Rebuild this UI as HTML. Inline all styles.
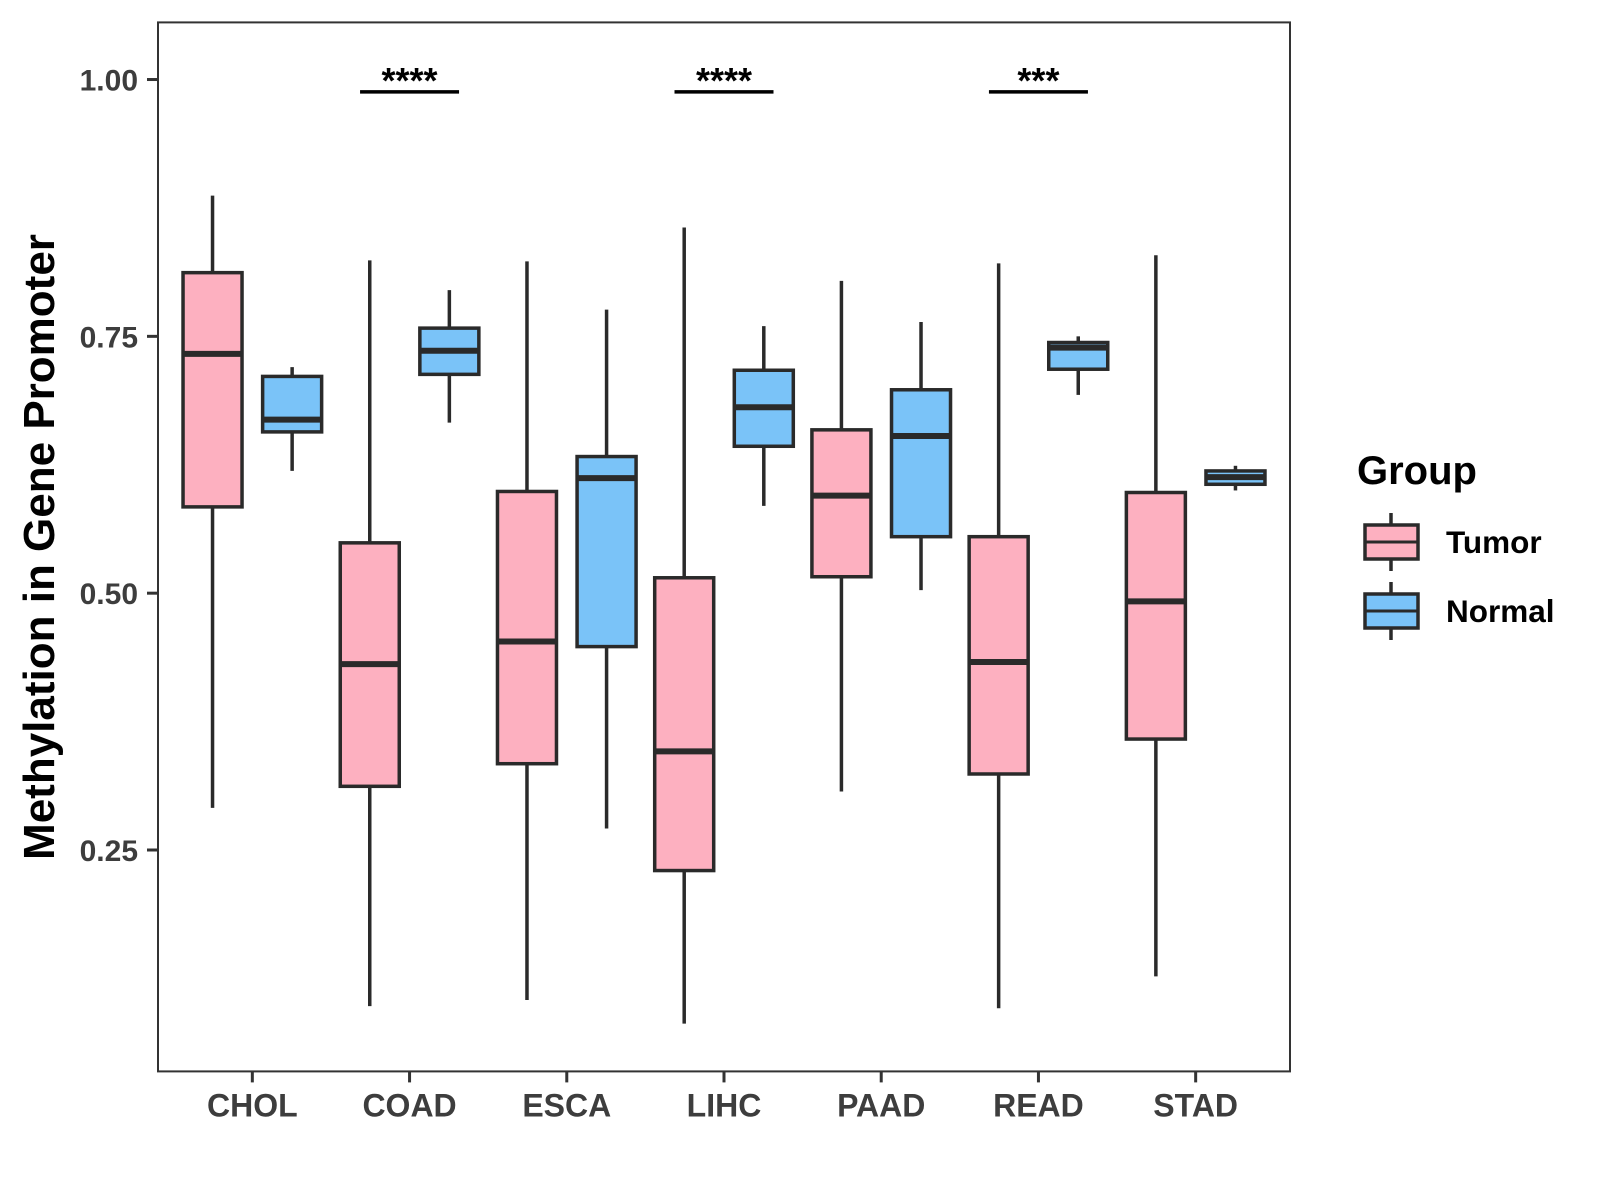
<!DOCTYPE html>
<html><head><meta charset="utf-8"><style>
body{margin:0;background:#fff}
svg{display:block;font-family:"Liberation Sans",Arial,sans-serif}
</style></head><body>
<svg id="chart" width="1600" height="1200">
</svg>
<script>
const categories=["CHOL","COAD","ESCA","LIHC","PAAD","READ","STAD"];
const groups=["Tumor","Normal"];
const tumorStats=[[0.291,0.584,0.733,0.812,0.887],[0.098,0.312,0.431,0.549,0.824],[0.104,0.334,0.453,0.599,0.823],[0.081,0.230,0.346,0.515,0.856],[0.307,0.516,0.595,0.659,0.804],[0.096,0.324,0.433,0.555,0.821],[0.127,0.358,0.492,0.598,0.829]];
const normalStats=[[0.619,0.657,0.669,0.711,0.720],[0.666,0.713,0.736,0.758,0.795],[0.271,0.448,0.612,0.633,0.776],[0.585,0.643,0.681,0.717,0.760],[0.503,0.555,0.653,0.698,0.764],[0.693,0.718,0.739,0.744,0.750],[0.600,0.606,0.613,0.619,0.624]];
const yTicks=[0.25,0.50,0.75,1.00];
const yTickLabels=["0.25","0.50","0.75","1.00"];
const sigCats=["COAD","LIHC","READ"];
const sigLabels=["****","****","***"];
const sigY=0.988;

const NS="http://www.w3.org/2000/svg";
const svg=document.getElementById('chart');
const L=158,R=1290,T=22.4,B=1071.4;
const yMin=0.0345,yMax=1.0556;
const y=v=>B-(v-yMin)/(yMax-yMin)*(B-T);
const step=(R-L)/(categories.length+0.2);
const x=i=>L+step*(i+0.6);
const off=39.8,bw=59;
const fills=["#FDB0C0","#7AC3F8"],stroke="#2a2a2a";
function mk(tag,attrs){const e=document.createElementNS(NS,tag);for(const k in attrs)e.setAttribute(k,attrs[k]);svg.appendChild(e);return e;}
function box(cx,s,fill,name){
  const g=document.createElementNS(NS,'g');svg.appendChild(g);
  
  
  const add=(tag,a)=>{const e=document.createElementNS(NS,tag);for(const k in a)e.setAttribute(k,a[k]);g.appendChild(e);return e;};
  add('line',{x1:cx,x2:cx,y1:y(s[4]),y2:y(s[0]),stroke:stroke,'stroke-width':3.5});
  add('rect',{x:cx-bw/2,y:y(s[3]),width:bw,height:y(s[1])-y(s[3]),fill:fill,stroke:stroke,'stroke-width':3.5});
  add('line',{x1:cx-bw/2,x2:cx+bw/2,y1:y(s[2]),y2:y(s[2]),stroke:stroke,'stroke-width':6});
}
const panel=mk('rect',{x:L,y:T,width:R-L,height:B-T,fill:'#fff',stroke:'#333','stroke-width':2});


categories.forEach((c,i)=>{
  box(x(i)-off,tumorStats[i],fills[0],'box-tumor-'+c.toLowerCase());
  box(x(i)+off,normalStats[i],fills[1],'box-normal-'+c.toLowerCase());
  const tk=mk('line',{x1:x(i),x2:x(i),y1:B,y2:B+11,stroke:'#333','stroke-width':3});
  
  
  const t=mk('text',{x:x(i),y:B+45,'text-anchor':'middle','font-size':32,'font-weight':'bold',fill:'#3d3d3d'});
  t.textContent=c;
  
  
});
yTicks.forEach((v,i)=>{
  const tk=mk('line',{x1:L-11,x2:L,y1:y(v),y2:y(v),stroke:'#333','stroke-width':3});
  
  
  const t=mk('text',{x:L-20,y:y(v)+11,'text-anchor':'end','font-size':30,'font-weight':'bold',fill:'#3d3d3d'});
  t.textContent=yTickLabels[i];
  
  
});
sigCats.forEach((c,k)=>{
  const i=categories.indexOf(c);
  const ln=mk('line',{x1:x(i)-49.5,x2:x(i)+49.5,y1:y(sigY),y2:y(sigY),stroke:'#000','stroke-width':3.5});
  
  
  const t=mk('text',{x:x(i),y:y(sigY)+1,'text-anchor':'middle','font-size':36,'font-weight':'bold',fill:'#000'});
  t.textContent=sigLabels[k];
  
  
});
const yt=mk('text',{x:0,y:0,transform:'translate(54,547) rotate(-90)','text-anchor':'middle','font-size':44,'font-weight':'bold',fill:'#000'});
yt.textContent='Methylation in Gene Promoter';


const lt=mk('text',{x:1357,y:484,'font-size':40,'font-weight':'bold',fill:'#000'});
lt.textContent='Group';


groups.forEach((g,k)=>{
  const cy=[542,611][k];
  const e=document.createElementNS(NS,'g');svg.appendChild(e);
  
  
  const add=(tag,a)=>{const q=document.createElementNS(NS,tag);for(const kk in a)q.setAttribute(kk,a[kk]);e.appendChild(q);return q;};
  add('line',{x1:1391,x2:1391,y1:cy-29,y2:cy+29,stroke:stroke,'stroke-width':3.5});
  add('rect',{x:1365,y:cy-17,width:53,height:34,fill:fills[k],stroke:stroke,'stroke-width':3.5});
  add('line',{x1:1365,x2:1418,y1:cy,y2:cy,stroke:stroke,'stroke-width':3});
  const t=add('text',{x:1446,y:cy+11,'font-size':31.5,'font-weight':'bold',fill:'#000'});
  t.textContent=g;
});
</script>
</body></html>
